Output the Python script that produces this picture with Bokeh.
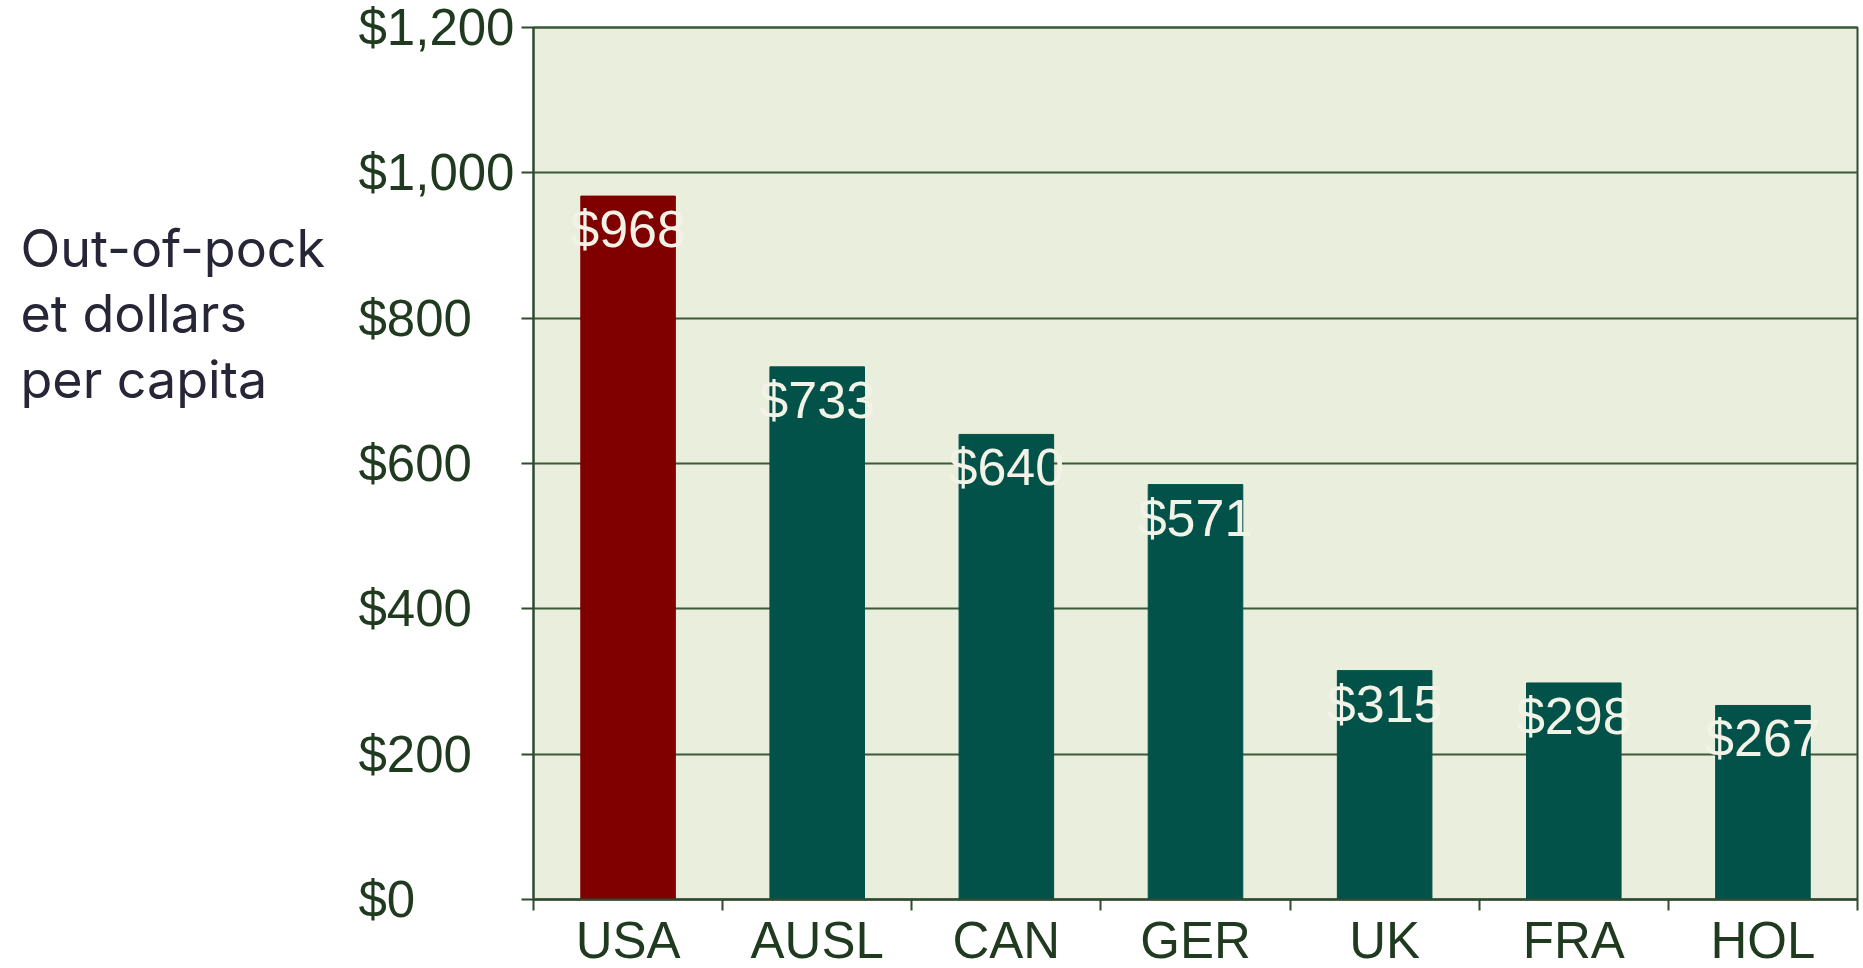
import numpy as np
from bokeh.plotting import figure
from bokeh.models import Range1d, FixedTicker, LinearAxis, Grid, ColumnDataSource
from bokeh.core.properties import value
from bokeh.embed import file_html
from bokeh.resources import INLINE

countries = ["USA", "AUSL", "CAN", "GER", "UK", "FRA", "HOL"]
spending = [968, 733, 640, 571, 315, 298, 267]
y_ticks = [0, 200, 400, 600, 800, 1000, 1200]
y_tick_labels = ["$0", "$200", "$400", "$600", "$800", "$1,000", "$1,200"]
y_label_lines = ["Out-of-pock", "et dollars", "per capita"]
highlight = "USA"

RED = "#800000"
GREEN = "#02524a"
BG = "#e9efdc"
AXIS_C = "#2f4a2f"
LABEL_C = "#1f3a1f"

# page / chart-area geometry (pixels)
W, H = 1863, 968
FL, FR, FT, FB = 533, 1857, 27, 899

n = len(countries)
ymax = y_ticks[-1]
ppx = (FR - FL) / n
ppy = (FB - FT) / ymax
x_range = Range1d(-FL / ppx, n + (W - FR) / ppx)
y_range = Range1d(-(H - FB) / ppy, ymax + FT / ppy)

p = figure(width=W, height=H, output_backend="svg", toolbar_location=None,
           x_range=x_range, y_range=y_range, x_axis_location=None, y_axis_location=None,
           min_border=0)
p.outline_line_color = None
p.background_fill_color = "white"
p.border_fill_color = "white"
for g in p.grid:
    g.visible = False

# chart area background + border
p.quad(left=[0], right=[n], bottom=[0], top=[ymax], fill_color=BG, line_color=AXIS_C,
       line_width=2, level="image")

# horizontal grid lines, only across the chart area
p.add_layout(Grid(dimension=1, ticker=FixedTicker(ticks=y_ticks), cross_bounds=(0, n),
                  grid_line_color="#3a5a3a", grid_line_width=2))

# bars
xs = np.arange(n) + 0.5
src = ColumnDataSource(dict(
    x=xs,
    top=spending,
    color=[RED if c == highlight else GREEN for c in countries],
    label=["$" + str(v) for v in spending],
))
p.vbar(x="x", top="top", bottom=0, width=0.5, color="color", source=src)
p.text(x="x", y="top", text="label", source=src, text_align="center", text_baseline="top",
       y_offset=4, text_font=value("Liberation Sans"), text_font_size="52px", text_color="#f2f2e6")

# x axis: labels at bar centres, tick marks at category boundaries
xaxis = LinearAxis(fixed_location=0, bounds=(0, n),
                   ticker=FixedTicker(ticks=list(xs), minor_ticks=list(range(n + 1))),
                   major_label_overrides={float(x): c for x, c in zip(xs, countries)},
                   major_tick_out=0, major_tick_in=0, minor_tick_out=11, minor_tick_in=0,
                   major_label_standoff=1,
                   major_label_text_font="Liberation Sans", major_label_text_font_size="51px",
                   major_label_text_color=LABEL_C,
                   axis_line_color=AXIS_C, axis_line_width=2,
                   minor_tick_line_color=AXIS_C, minor_tick_line_width=2)
p.add_layout(xaxis, "below")

# y axis: tick marks (labels drawn left-aligned below)
yaxis = LinearAxis(fixed_location=0, bounds=(0, ymax), ticker=FixedTicker(ticks=y_ticks),
                   major_label_overrides={t: "" for t in y_ticks},
                   major_tick_out=12, major_tick_in=0, minor_tick_line_color=None,
                   axis_line_color=AXIS_C, axis_line_width=2,
                   major_tick_line_color=AXIS_C, major_tick_line_width=2)
p.add_layout(yaxis, "left")

# left-aligned y tick labels
p.text(x=[0] * len(y_ticks), y=y_ticks, text=y_tick_labels, x_offset=-175,
       text_align="left", text_baseline="middle", text_font=value("Liberation Sans"),
       text_font_size="51px", text_color=LABEL_C)

# multi-line y title
p.text(x=[0] * len(y_label_lines), y=[ymax] * len(y_label_lines), text=y_label_lines,
       x_offset=20 - FL, y_offset=[221, 286, 352], text_align="left", text_baseline="alphabetic",
       text_font=value("Inter"), text_font_size="52px", text_color="#262636")

open("out.html", "w").write(file_html(p, INLINE))
